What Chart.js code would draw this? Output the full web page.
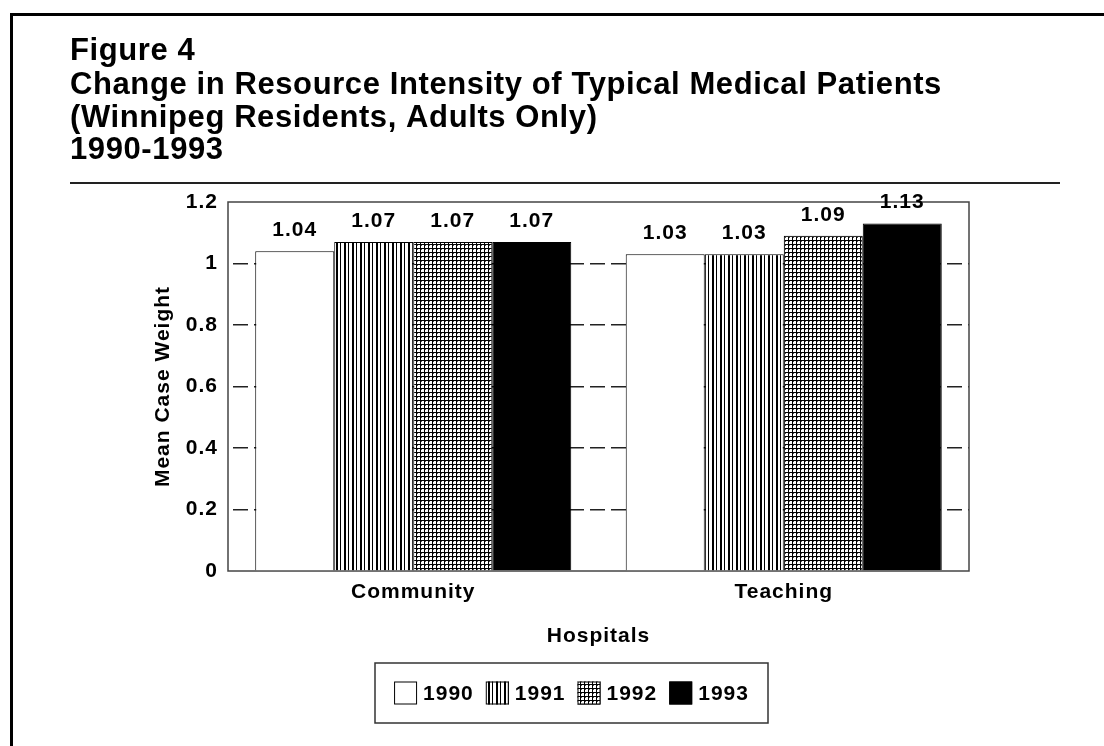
<!DOCTYPE html>
<html>
<head>
<meta charset="utf-8">
<title>Figure 4</title>
<script src="https://cdn.jsdelivr.net/npm/chart.js@4.4.1/dist/chart.umd.min.js"></script>
<style>
  body { margin: 0; background: #fff; }
  canvas { display: block; }
</style>
</head>
<body>
<canvas id="chart" width="1104" height="746"></canvas>
<script>
'use strict';

var titleLines = [
  'Figure 4',
  'Change in Resource Intensity of Typical Medical Patients',
  '(Winnipeg Residents, Adults Only)',
  '1990-1993'
];
var hospitalTypes = ['Community', 'Teaching'];
var years = ['1990', '1991', '1992', '1993'];
var values1990 = [1.04, 1.03];
var values1991 = [1.07, 1.03];
var values1992 = [1.07, 1.09];
var values1993 = [1.07, 1.13];
var yTickLabels = ['0', '0.2', '0.4', '0.6', '0.8', '1', '1.2'];
var yTitle = 'Mean Case Weight';
var xTitle = 'Hospitals';

var FAMILY = '"Liberation Sans", Arial, Helvetica, sans-serif';
Chart.defaults.font.family = FAMILY;
var smallFont = { family: FAMILY, size: 21, weight: 'bold' };

var ctx = document.getElementById('chart').getContext('2d');

// hatch fills for the bars and the legend swatches
function makePattern(kind) {
  var c = document.createElement('canvas');
  var p = c.getContext('2d');
  if (kind === 'vertical') {
    c.width = 8; c.height = 4;
    p.fillStyle = '#fff'; p.fillRect(0, 0, 8, 4);
    p.fillStyle = '#000';
    p.fillRect(0, 0, 2, 4);
    p.fillRect(4, 0, 1, 4);
  } else {
    c.width = 4; c.height = 4;
    p.fillStyle = '#fff'; p.fillRect(0, 0, 4, 4);
    p.fillStyle = '#000';
    p.fillRect(0, 0, 1, 4);
    p.fillRect(0, 0, 4, 1);
    p.fillStyle = '#555';
    p.fillRect(1, 1, 1, 1);
  }
  return ctx.createPattern(c, 'repeat');
}

var fills = ['#ffffff', makePattern('vertical'), makePattern('grid'), '#000000'];
var seriesValues = [values1990, values1991, values1992, values1993];

var datasets = [];
for (var i = 0; i < years.length; i++) {
  datasets.push({
    label: years[i],
    data: seriesValues[i],
    backgroundColor: fills[i],
    borderColor: '#000',
    borderWidth: 1,
    categoryPercentage: 0.853,
    barPercentage: 1
  });
}

var spacing = {
  id: 'spacing',
  beforeDraw: function (chart) {
    chart.ctx.letterSpacing = '1px';
  }
};

var plotFrame = {
  id: 'plotFrame',
  beforeDatasetsDraw: function (chart) {
    var a = chart.chartArea;
    var c = chart.ctx;
    c.save();
    c.strokeStyle = '#444';
    c.lineWidth = 1.5;
    c.strokeRect(a.left, a.top, a.right - a.left, a.bottom - a.top);
    c.restore();
  }
};

var valueLabels = {
  id: 'valueLabels',
  afterDatasetsDraw: function (chart) {
    var c = chart.ctx;
    c.save();
    c.font = 'bold 21px ' + FAMILY;
    c.fillStyle = '#000';
    c.textAlign = 'center';
    c.textBaseline = 'middle';
    chart.data.datasets.forEach(function (ds, i) {
      chart.getDatasetMeta(i).data.forEach(function (bar, j) {
        c.fillText(ds.data[j].toFixed(2), bar.x, bar.y - 21);
      });
    });
    c.restore();
  }
};

var decor = {
  id: 'decor',
  afterDraw: function (chart) {
    var c = chart.ctx;
    c.save();
    // outer frame (left and top edges)
    c.strokeStyle = '#000';
    c.lineWidth = 3;
    c.beginPath();
    c.moveTo(11.5, 746);
    c.lineTo(11.5, 14.5);
    c.lineTo(1104, 14.5);
    c.stroke();

    // title block
    c.fillStyle = '#000';
    c.font = 'bold 31px ' + FAMILY;
    c.letterSpacing = '0.6px';
    c.textAlign = 'left';
    c.textBaseline = 'alphabetic';
    var baselines = [60, 94, 127, 159];
    titleLines.forEach(function (t, k) {
      c.fillText(t, 70, baselines[k]);
    });

    // rule under the title
    c.strokeStyle = '#222';
    c.lineWidth = 2;
    c.beginPath();
    c.moveTo(70, 183);
    c.lineTo(1060, 183);
    c.stroke();

    // legend
    c.letterSpacing = '1px';
    c.font = 'bold 21px ' + FAMILY;
    c.strokeStyle = '#333';
    c.lineWidth = 1.5;
    c.strokeRect(375, 663, 393, 60);
    var sw = 23, gapText = 6, gapItem = 12;
    var widths = years.map(function (y) { return c.measureText(y).width; });
    var total = 0;
    widths.forEach(function (w) { total += sw + gapText + w; });
    total += gapItem * (years.length - 1);
    var x = 375 + (393 - total) / 2;
    var cy = 693;
    c.textBaseline = 'middle';
    years.forEach(function (y, k) {
      c.fillStyle = fills[k];
      c.fillRect(x, cy - sw / 2, sw, sw);
      c.strokeStyle = '#000';
      c.lineWidth = 1;
      c.strokeRect(x + 0.5, cy - sw / 2 + 0.5, sw - 1, sw - 1);
      c.fillStyle = '#000';
      c.fillText(y, x + sw + gapText, cy + 1);
      x += sw + gapText + widths[k] + gapItem;
    });
    c.restore();
  }
};

var chartData = {
  type: 'bar',
  data: {
    labels: hospitalTypes,
    datasets: datasets
  },
  options: {
    responsive: false,
    animation: false,
    layout: { padding: { left: 0, right: 135, top: 202, bottom: 97 } },
    plugins: {
      legend: { display: false },
      tooltip: { enabled: false }
    },
    scales: {
      x: {
        grid: { display: false, drawTicks: false },
        border: { display: false },
        ticks: { color: '#000', font: smallFont, padding: 9 },
        title: { display: true, text: xTitle, color: '#000', font: smallFont, padding: 0 },
        afterFit: function (s) { s.height = 78; }
      },
      y: {
        min: 0,
        max: 1.2,
        ticks: {
          stepSize: 0.2,
          color: '#000',
          font: smallFont,
          padding: 10,
          callback: function (v, i) { return yTickLabels[i]; }
        },
        grid: {
          drawTicks: false,
          lineWidth: 1.5,
          color: function (c) {
            return (c.index > 0 && c.index < yTickLabels.length - 1) ? '#222' : 'rgba(0,0,0,0)';
          }
        },
        border: { display: false, dash: [15, 6], dashOffset: 16 },
        title: { display: true, text: yTitle, color: '#000', font: smallFont, padding: { top: 151, bottom: 0 } },
        afterFit: function (s) { s.width = 228; }
      }
    }
  },
  plugins: [spacing, plotFrame, valueLabels, decor]
};

var charts = new Chart(ctx, chartData);
</script>
</body>
</html>
